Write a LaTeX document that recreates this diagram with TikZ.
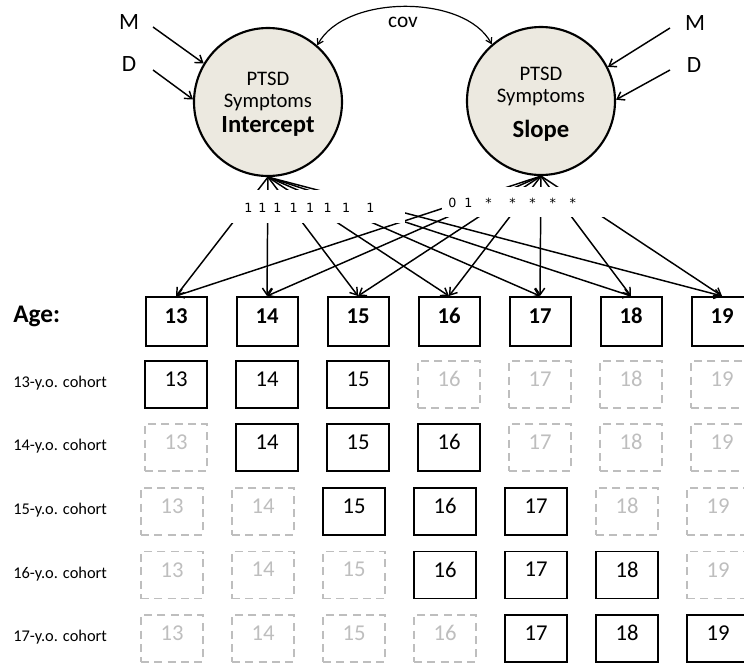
\documentclass[tikz,border=0pt]{standalone}
\usepackage{fontspec}
\setmainfont{Carlito}
\newfontfamily\dejavu{DejaVu Sans}
\usetikzlibrary{arrows.meta}
\definecolor{latent}{RGB}{236,233,224}
\definecolor{ghost}{RGB}{190,190,190}
\begin{document}
\begin{tikzpicture}[x=0.75pt,y=-0.75pt,
  lat/.style={circle,draw,line width=1.6pt,fill=latent,minimum size=111pt,inner sep=0pt},
  lattxt/.style={anchor=base,inner sep=0pt,font=\fontsize{15.5}{17}\selectfont},
  latbig/.style={anchor=base,inner sep=0pt,font=\fontsize{18.5}{20}\selectfont\bfseries},
  agebox/.style={draw,line width=1.5pt,minimum width=45.75pt,minimum height=36.75pt,inner sep=0pt,text depth=8pt,font=\fontsize{17}{19}\selectfont\bfseries},
  obsbox/.style={draw,line width=1.1pt,minimum width=46.5pt,minimum height=35.25pt,inner sep=0pt,text depth=8pt,font=\fontsize{17}{19}\selectfont},
  missbox/.style={draw=ghost,text=ghost,dash pattern=on 6pt off 4pt,line width=1.1pt,minimum width=46.5pt,minimum height=35.25pt,inner sep=0pt,text depth=8pt,font=\fontsize{17}{19}\selectfont},
  cohlab/.style={anchor=base west,inner sep=0pt,font=\fontsize{12.3}{14}\selectfont},
  cov/.style={anchor=base,inner sep=0pt,font=\fontsize{17.5}{19}\selectfont},
  load/.style={line width=1.1pt,-{Straight Barb[length=5pt,width=7pt]}},
  loadlab/.style={anchor=base west,inner sep=0pt,font=\dejavu\fontsize{9.5}{10}\selectfont},
  mask/.style={fill=white,draw=none},
  covarr/.style={line width=0.9pt,{Straight Barb[length=4pt,width=5pt]}-{Straight Barb[length=4pt,width=5pt]}}
]
\clip (0,0) rectangle (744,665);
\useasboundingbox (0,0) rectangle (744,665);

% latent factors
\node[lat] (I) at (268,102) {};
\node[lat] (S) at (541,101) {};
\node[lattxt] (I1) at (268,85) {PTSD};
\node[lattxt] (I2) at (268,107) {Symptoms};
\node[latbig] (I3) at (268,132) {Intercept};
\node[lattxt] (S1) at (541,80) {PTSD};
\node[lattxt] (S2) at (541,102) {Symptoms};
\node[latbig] (S3) at (541,137) {Slope};

% covariates
\node[cov] (ML) at (129,29) {M};
\node[cov] (DL) at (129,71) {D};
\node[cov] (MR) at (695,30) {M};
\node[cov] (DR) at (694,72) {D};
\coordinate (mls) at (153,27);
\coordinate (dls) at (153,70);
\coordinate (mrs) at (670,28);
\coordinate (drs) at (670,70);
\draw[load] (mls) -- (I.149);
\draw[load] (dls) -- (I.178);
\draw[load] (mrs) -- (S.27);
\draw[load] (drs) -- (S.1);

% covariance
\node[cov,font=\fontsize{16}{18}\selectfont] (covl) at (403,27) {cov};
\draw[covarr] (I.49) .. controls (345,-6) and (465,-6) .. (S.131);

% age row
\node[anchor=base west,inner sep=0pt,font=\fontsize{19}{21}\selectfont\bfseries] (age) at (13,322) {Age:};
\foreach \k in {0,...,6} {
  \pgfmathtruncatemacro\lab{13+\k}
  \node[agebox] (a\k) at ({176+91*\k},321.5) {\lab};
}

% loadings
\foreach \k in {0,...,6} {
  \draw[load] (I.south) -- (a\k.north);
  \draw[load] (S.south) -- (a\k.north);
}
\fill[mask] (225,190) rectangle (405,223);
\fill[mask] (442,187) rectangle (612,217);
\node[loadlab] (il) at (244,212) {1\hspace{4.5pt}1\hspace{5.3pt}1\hspace{6pt}1\hspace{6.5pt}1\hspace{7pt}1\hspace{7.8pt}1\hspace{12.2pt}1};
\node[loadlab] (sl) at (448,207.5) {0\hspace{6pt}1\hspace{9.7pt}*\hspace{13.3pt}*\hspace{10.3pt}*\hspace{10.3pt}*\hspace{10.3pt}*};

% cohort rows
\foreach \r/\y/\dx in {0/384.5/0,1/447.5/0,2/511.5/-4,3/575/-4,4/638.5/-4} {
  \pgfmathtruncatemacro\cage{13+\r}
  \node[cohlab] (lab\r) at (13,{\y+3}) {\cage-y.o. cohort};
  \foreach \k in {0,...,6} {
    \pgfmathtruncatemacro\lab{13+\k}
    \pgfmathtruncatemacro\solid{and(\k>=\r,\k<=\r+2)}
    \ifnum\solid=1
      \node[obsbox] (c\r-\k) at ({176+91*\k+\dx},\y) {\lab};
    \else
      \node[missbox] (c\r-\k) at ({176+91*\k+\dx},\y) {\lab};
    \fi
  }
}
\end{tikzpicture}
\end{document}
